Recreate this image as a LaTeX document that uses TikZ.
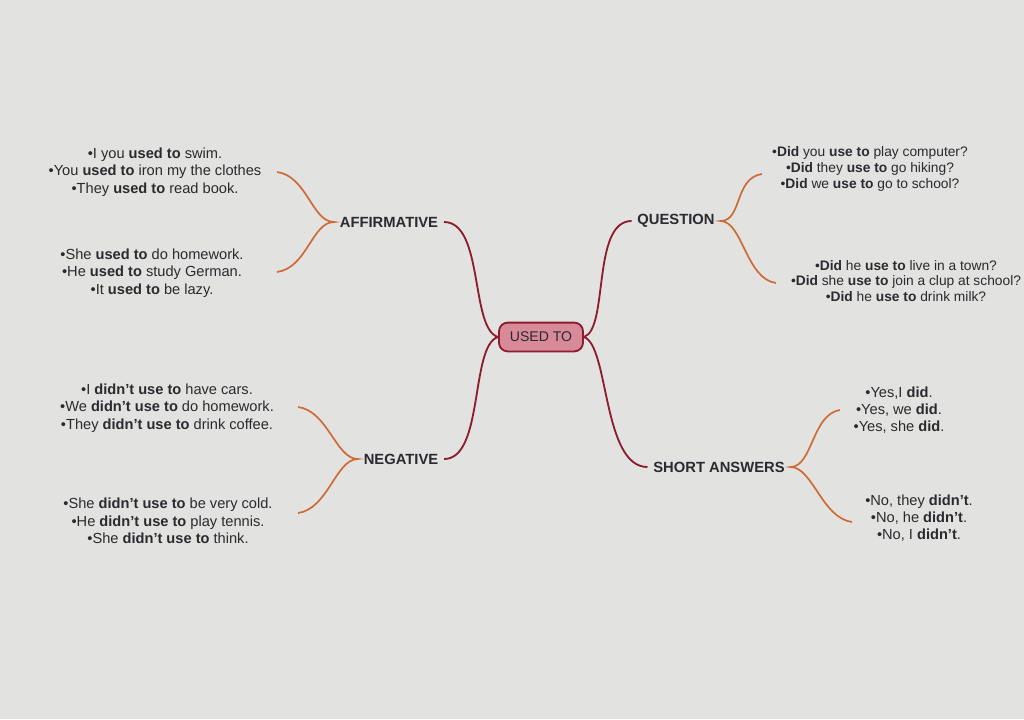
\documentclass[tikz,border=0pt]{standalone}
\usepackage{fontspec}
\setmainfont{Liberation Sans}
\definecolor{paper}{HTML}{E2E2E0}
\definecolor{ink}{HTML}{2A2A30}
\definecolor{wine}{HTML}{8C1C2E}
\definecolor{rust}{HTML}{CF6A36}
\definecolor{rosefill}{HTML}{D88A98}
\begin{document}
\begin{tikzpicture}[
        x=0.025cm, y=-0.025cm,
        item/.style={font=\fontsize{10.4}{12.3}\selectfont, text=ink, align=center, inner sep=0pt},
        qitem/.style={item, font=\fontsize{9.8}{11.2}\selectfont},
        head/.style={font=\fontsize{10.5}{12}\selectfont\bfseries, text=ink, inner sep=4pt},
        branch/.style={draw=wine, line width=1.3pt},
        brace/.style={draw=rust, line width=1.2pt}
    ]
    % page
    \fill[paper] (0,0) rectangle (1024,719);
    \useasboundingbox (0,0) rectangle (1024,719);

    % centre
    \node[draw=wine, fill=rosefill, line width=1.3pt, rounded corners=0.22cm,
          minimum width=2.1cm, minimum height=0.72cm, text=ink,
          font=\fontsize{10}{12}\selectfont] (used) at (541,337) {USED TO};

    % headings
    \node[head] (aff) at (389,222) {AFFIRMATIVE};
    \node[head] (neg) at (401,459) {NEGATIVE};
    \node[head] (que) at (676,221) {QUESTION};
    \node[head] (sho) at (719,467) {SHORT ANSWERS};

    % main branches
    \draw[branch] (used.west) .. controls +(-28,-8) and +(40,0) .. (aff.east);
    \draw[branch] (used.west) .. controls +(-28,8) and +(40,0) .. (neg.east);
    \draw[branch] (used.east) .. controls +(25,-8) and +(-40,0) .. (que.west);
    \draw[branch] (used.east) .. controls +(25,8) and +(-45,0) .. (sho.west);

    % example sentences
    \node[item] (aff1) at (155,172) {•I you \textbf{used to} swim.\\
        •You \textbf{used to} iron my the clothes\\ •They \textbf{used to} read book.};
    \node[item] (aff2) at (152,273) {•She \textbf{used to} do homework.\\
        •He \textbf{used to} study German.\\ •It \textbf{used to} be lazy.};
    \node[item] (neg1) at (167,408) {•I \textbf{didn't use to} have cars.\\
        •We \textbf{didn't use to} do homework.\\ •They \textbf{didn't use to} drink coffee.};
    \node[item] (neg2) at (168,521) {•She \textbf{didn't use to} be very cold.\\
        •He \textbf{didn't use to} play tennis.\\ •She \textbf{didn't use to} think.};
    \node[qitem] (que1) at (870,169) {•\textbf{Did} you \textbf{use to} play computer?\\
        •\textbf{Did} they \textbf{use to} go hiking?\\ •\textbf{Did} we \textbf{use to} go to school?};
    \node[qitem] (que2) at (906,281) {•\textbf{Did} he \textbf{use to} live in a town?\\
        •\textbf{Did} she \textbf{use to} join a clup at school?\\ •\textbf{Did} he \textbf{use to} drink milk?};
    \node[item] (sho1) at (899,410) {•Yes,I \textbf{did}.\\ •Yes, we \textbf{did}.\\ •Yes, she \textbf{did}.};
    \node[item] (sho2) at (919,518) {•No, they \textbf{didn't}.\\ •No, he \textbf{didn't}.\\ •No, I \textbf{didn't}.};

    % brace ends
    \coordinate (affT) at (277,172);
    \coordinate (affB) at (277,272);
    \coordinate (negT) at (298,407);
    \coordinate (negB) at (298,513);
    \coordinate (queT) at (762,174);
    \coordinate (queB) at (776,283);
    \coordinate (shoT) at (840,410);
    \coordinate (shoB) at (852,522);

    % braces
    \draw[brace] (affT) .. controls +(30,4) and +(-22,0) .. (aff.west)
                 .. controls +(-22,0) and +(30,-4) .. (affB);
    \draw[brace] (negT) .. controls +(30,4) and +(-22,0) .. (neg.west)
                 .. controls +(-22,0) and +(30,-4) .. (negB);
    \draw[brace] (queT) .. controls +(-28,4) and +(22,0) .. (que.east)
                 .. controls +(22,0) and +(-30,-4) .. (queB);
    \draw[brace] (shoT) .. controls +(-28,4) and +(22,0) .. (sho.east)
                 .. controls +(22,0) and +(-30,-4) .. (shoB);
\end{tikzpicture}
\end{document}
